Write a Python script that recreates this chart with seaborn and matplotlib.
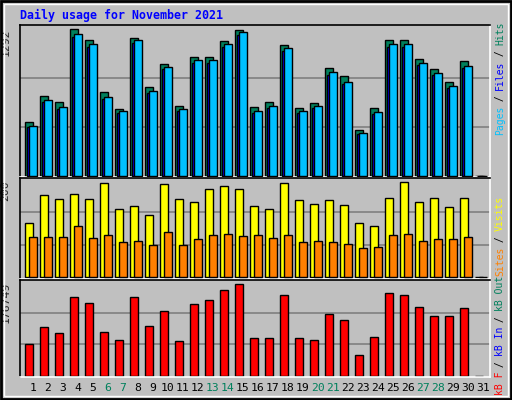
import matplotlib
matplotlib.use('Agg')
import matplotlib.pyplot as plt
import seaborn as sns
from matplotlib.patches import Rectangle

days = list(range(1, 32))
weekend = [6, 7, 13, 14, 20, 21, 27, 28]

hits = [476, 704, 652, 1292, 1196, 740, 590, 1213, 783, 985, 617, 1046, 1046, 1187, 1283,
        608, 652, 1152, 599, 643, 950, 880, 406, 599, 1196, 1196, 1029, 941, 827, 1011, 0]
files = [441, 669, 608, 1248, 1160, 696, 573, 1196, 748, 959, 590, 1020, 1020, 1160, 1266,
         573, 617, 1125, 573, 617, 915, 827, 380, 564, 1160, 1160, 994, 906, 792, 967, 0]
pages = [430, 655, 595, 1225, 1140, 680, 560, 1175, 730, 940, 578, 1000, 1000, 1140, 1245,
         560, 605, 1105, 560, 605, 895, 810, 372, 552, 1140, 1140, 975, 888, 776, 948, 0]
visits = [110, 169, 159, 171, 159, 192, 140, 146, 127, 190, 159, 154, 180, 186, 180,
          146, 140, 192, 157, 150, 157, 148, 110, 104, 163, 194, 154, 163, 144, 161, 0]
sites = [83, 83, 83, 104, 81, 87, 72, 74, 66, 93, 66, 79, 87, 89, 85,
         87, 81, 87, 72, 74, 72, 68, 60, 62, 87, 89, 74, 77, 79, 83, 0]
kbytes = [58900, 90520, 79360, 146320, 135160, 81220, 66340, 146320, 92380, 120280, 64480,
          133300, 140740, 159340, 170500, 70060, 70060, 150040, 70060, 66340, 114700, 103540,
          38440, 71920, 153760, 150040, 127720, 110980, 110980, 125860, 0]
max_hits, max_visits, max_kb = 1292, 200, 176749

sns.set_style('white')
plt.rcParams['font.family'] = ['DejaVu Sans Mono']
BG = '#c0c0c0'
W, H = 512, 400

fig = plt.figure(figsize=(5.12, 4.0), dpi=100, facecolor=BG)


def add_panel(top, bottom):
    ax = fig.add_axes([20 / W, 1 - bottom / H, 470 / W, (bottom - top) / H])
    ax.set_facecolor(BG)
    ax.set_xlim(0.667, 32)
    ax.set_xticks([])
    ax.set_yticks([])
    for side in ax.spines.values():
        side.set_linewidth(1.2)
    ax.spines['top'].set_color('black')
    ax.spines['left'].set_color('black')
    ax.spines['right'].set_color('white')
    ax.spines['bottom'].set_color('white')
    return ax


def grid(ax, vmax):
    for f in (1 / 3, 2 / 3):
        ax.axhline(vmax * f, color='#808080', lw=1.2, zorder=0)


x = [d for d in days]

# hits / files / pages
ax1 = add_panel(25, 177)
ax1.set_ylim(-5, 1330)
grid(ax1, max_hits)
ax1.bar([d for d in x], hits, width=0.52, align='edge', color='#00805c', edgecolor='black', lw=1, zorder=2)
ax1.bar([d + 0.13 for d in x], pages, width=0.52, align='edge', color='#0000ff', edgecolor='black', lw=1, zorder=3)
ax1.bar([d + 0.27 for d in x], files, width=0.52, align='edge', color='#00c0ff', edgecolor='black', lw=1, zorder=4)

# visits / sites
ax2 = add_panel(178, 279)
ax2.set_ylim(-4, 203)
grid(ax2, max_visits)
ax2.bar(x, visits, width=0.55, align='edge', color='#ffff00', edgecolor='black', lw=1, zorder=2)
ax2.bar([d + 0.27 for d in x], sites, width=0.52, align='edge', color='#ff8000', edgecolor='black', lw=1, zorder=3)

# kbytes
ax3 = add_panel(280, 377)
ax3.set_ylim(-1500, 178500)
grid(ax3, max_kb)
ax3.bar(x, kbytes, width=0.52, align='edge', color='#ff0000', edgecolor='black', lw=1, zorder=2)

# day labels
for d in days:
    ax3.text(d + 0.53, -0.11, str(d), transform=ax3.get_xaxis_transform(), ha='center', va='center',
             fontsize=8.2, color='#00805c' if d in weekend else 'black')

# left max labels
for ax, label in ((ax1, str(max_hits)), (ax2, str(max_visits)), (ax3, str(max_kb))):
    ax.text(-0.02, 0.98, label, transform=ax.transAxes, rotation=90, ha='right', va='top', fontsize=8.2)

fig.text(20 / W, 1 - 15 / H, 'Daily usage for November 2021', color='#0000ff', fontsize=8.4,
         fontweight='bold', va='center', ha='left')


def side_label(y_bottom, parts):
    y = y_bottom
    for txt, col in parts:
        fig.text(500 / W, 1 - y / H, txt, rotation=90, color=col, fontsize=7, ha='center', va='bottom')
        y -= 5.6 * len(txt)


side_label(135, [('Pages', '#00c0ff'), (' / ', 'black'), ('Files', '#0000ff'), (' / ', 'black'), ('Hits', '#00805c')])
side_label(276, [('Sites', '#ff8000'), (' / ', 'black'), ('Visits', '#ffff00')])
side_label(395, [('kB F', '#ff0000'), (' / ', 'black'), ('kB In', '#0000ff'), (' / ', 'black'), ('kB Out', '#00805c')])

# outer 3D border
fig.patches.append(Rectangle((0.002, 0.002), 0.996, 0.996, transform=fig.transFigure, fill=False,
                             edgecolor='black', lw=2))
fig.patches.append(Rectangle((0.008, 0.01), 0.984, 0.98, transform=fig.transFigure, fill=False,
                             edgecolor='white', lw=1))

fig.savefig('out.png', dpi=100, facecolor=BG)
